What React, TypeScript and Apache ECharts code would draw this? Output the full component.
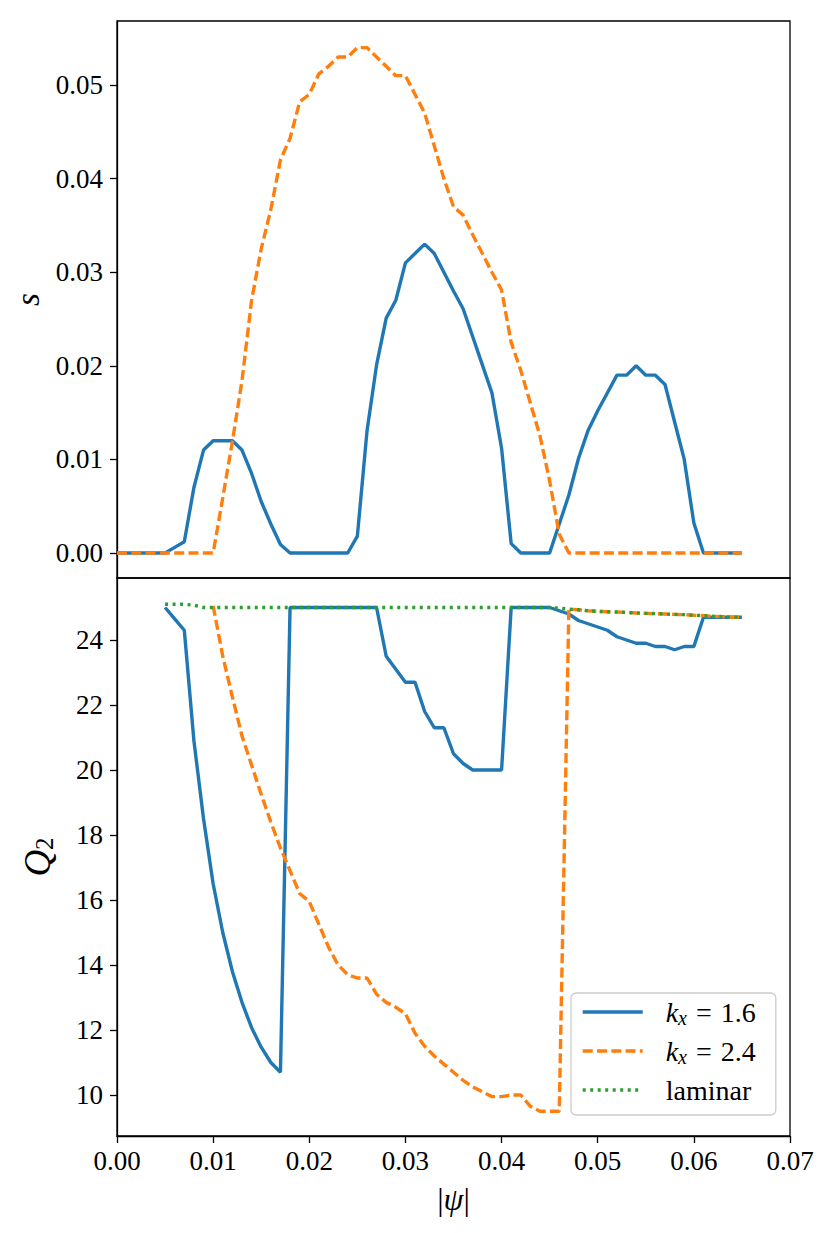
import React, { useEffect, useRef } from "react";
import * as echarts from "echarts";

const psi = [
  0.0, 0.001, 0.002, 0.003, 0.004, 0.005, 0.006, 0.007, 0.008, 0.009,
  0.01, 0.011, 0.012, 0.013, 0.014, 0.015, 0.016, 0.017, 0.018, 0.019,
  0.02, 0.021, 0.022, 0.023, 0.024, 0.025, 0.026, 0.027, 0.028, 0.029,
  0.03, 0.031, 0.032, 0.033, 0.034, 0.035, 0.036, 0.037, 0.038, 0.039,
  0.04, 0.041, 0.042, 0.043, 0.044, 0.045, 0.046, 0.047, 0.048, 0.049,
  0.05, 0.051, 0.052, 0.053, 0.054, 0.055, 0.056, 0.057, 0.058, 0.059,
  0.06, 0.061, 0.062, 0.063, 0.064, 0.065,
];

// top panel: s
const sK16 = [
  0, 0, 0, 0, 0, 0, 0.0006, 0.0012, 0.007, 0.011,
  0.012, 0.012, 0.012, 0.011, 0.0085, 0.0055, 0.0031, 0.0009, 0, 0,
  0, 0, 0, 0, 0, 0.0018, 0.013, 0.0201, 0.0251, 0.027,
  0.031, 0.032, 0.033, 0.032, 0.03, 0.028, 0.0261, 0.0231, 0.0201, 0.0171,
  0.0112, 0.001, 0, 0, 0, 0, 0.0031, 0.0062, 0.0101, 0.0131,
  0.0152, 0.0171, 0.019, 0.019, 0.02, 0.019, 0.019, 0.018, 0.014, 0.01,
  0.0032, 0, 0, 0, 0, 0,
];
const sK24 = [
  0, 0, 0, 0, 0, 0, 0, 0, 0, 0,
  0, 0.0059, 0.0119, 0.0184, 0.027, 0.0325, 0.0367, 0.042, 0.0443, 0.0482,
  0.049, 0.0512, 0.052, 0.053, 0.053, 0.054, 0.054, 0.053, 0.052, 0.051,
  0.051, 0.049, 0.047, 0.0435, 0.04, 0.037, 0.0361, 0.034, 0.032, 0.03,
  0.0281, 0.0225, 0.0195, 0.016, 0.0125, 0.0077, 0.002, 0, 0, 0,
  0, 0, 0, 0, 0, 0, 0, 0, 0, 0,
  0, 0, 0, 0, 0, 0,
];

// bottom panel: Q2
const qK16 = [
  null, null, null, null, null, 25.0, 24.65, 24.3, 20.9, 18.5,
  16.5, 15.0, 13.8, 12.85, 12.07, 11.47, 11.0, 10.7, 25.0, 25.0,
  25.0, 25.0, 25.0, 25.0, 25.0, 25.0, 25.0, 25.0, 23.5, 23.1,
  22.7, 22.7, 21.8, 21.3, 21.3, 20.5, 20.2, 20.0, 20.0, 20.0,
  20.0, 25.0, 25.0, 25.0, 25.0, 25.0, 24.9, 24.8, 24.6, 24.5,
  24.4, 24.3, 24.1, 24.0, 23.9, 23.9, 23.8, 23.8, 23.7, 23.8,
  23.8, 24.7, 24.7, 24.7, 24.7, 24.7,
];
const qK24 = [
  null, null, null, null, null, null, null, null, null, null,
  25.05, 23.5, 22.25, 21.05, 20.15, 19.25, 18.4, 17.6, 16.9, 16.2,
  15.95, 15.25, 14.55, 14.0, 13.7, 13.6, 13.6, 13.1, 12.85, 12.7,
  12.5, 11.9, 11.5, 11.2, 10.95, 10.7, 10.45, 10.25, 10.1, 9.95,
  9.95, 10.0, 10.0, 9.65, 9.5, 9.5, 9.5, 24.95, 24.93, 24.9,
  24.88, 24.87, 24.86, 24.85, 24.83, 24.82, 24.81, 24.8, 24.79, 24.78,
  24.76, 24.75, 24.73, 24.72, 24.7, 24.7,
];
const qLaminar = [
  null, null, null, null, null, 25.1, 25.1, 25.1, 25.07, 25.0,
  25.0, 25.0, 25.0, 25.0, 25.0, 25.0, 25.0, 25.0, 25.0, 25.0,
  25.0, 25.0, 25.0, 25.0, 25.0, 25.0, 25.0, 25.0, 25.0, 25.0,
  25.0, 25.0, 25.0, 25.0, 25.0, 25.0, 25.0, 25.0, 25.0, 25.0,
  25.0, 25.0, 25.0, 25.0, 25.0, 25.0, 24.98, 24.95, 24.93, 24.9,
  24.88, 24.87, 24.86, 24.85, 24.83, 24.82, 24.81, 24.8, 24.79, 24.78,
  24.76, 24.75, 24.73, 24.72, 24.7, 24.7,
];

const xTicks = [0, 0.01, 0.02, 0.03, 0.04, 0.05, 0.06, 0.07];
const sTicks = [0, 0.01, 0.02, 0.03, 0.04, 0.05];
const qTicks = [10, 12, 14, 16, 18, 20, 22, 24];

const names = ["k16", "k24", "laminar"];
const colors = ["#1f77b4", "#ff7f0e", "#2ca02c"];

const FONT = "Liberation Serif";
const FS = 27;
const LW = 3.4;

export default function App() {
  const ref = useRef<HTMLDivElement>(null);
  useEffect(() => {
    const chart = echarts.init(ref.current!, null, { renderer: "svg" });
    const zip = (ys: (number | null)[]) => psi.map((x, i) => [x, ys[i]]);
    const axisLabel = {
      fontFamily: FONT,
      fontSize: FS,
      color: "#000",
    };
    const tick = { show: true, inside: false, length: 7, lineStyle: { color: "#000", width: 1.3 } };
    const rich = {
      i: { fontFamily: FONT, fontStyle: "italic", fontSize: 28, color: "#000", lineHeight: 32 },
      s: { fontFamily: FONT, fontStyle: "italic", fontSize: 20, color: "#000", lineHeight: 19, verticalAlign: "bottom" },
      r: { fontFamily: FONT, fontSize: 28, color: "#000", lineHeight: 32 },
      g: { width: 9 },
      p: { width: 18 },
    };
    const option: any = {
      animation: false,
      backgroundColor: "#fff",
      grid: [
        { left: 117, top: 21, width: 673, height: 557, show: true, borderColor: "#000", borderWidth: 1.3, backgroundColor: "transparent" },
        { left: 117, top: 578, width: 673, height: 558, show: true, borderColor: "#000", borderWidth: 1.3, backgroundColor: "transparent" },
      ],
      xAxis: [
        {
          type: "value", gridIndex: 0, min: 0, max: 0.07, interval: 0.01,
          axisLine: { show: false }, axisTick: { show: false }, axisLabel: { show: false }, splitLine: { show: false },
        },
        {
          type: "value", gridIndex: 1, min: 0, max: 0.07, interval: 0.01,
          axisLine: { show: true, onZero: false, lineStyle: { color: "#000", width: 1.3 } },
          axisTick: tick,
          axisLabel: { ...axisLabel, margin: 11, customValues: xTicks, formatter: (v: number) => v.toFixed(2) },
          splitLine: { show: false },
          name: "{r||}{i|ψ}{r||}",
          nameLocation: "middle",
          nameGap: 45,
          nameTextStyle: {
            rich: {
              i: { ...rich.i, fontSize: 32, lineHeight: 36 },
              r: { ...rich.r, fontSize: 32, lineHeight: 36 },
            },
          },
        },
      ],
      yAxis: [
        {
          type: "value", gridIndex: 0, min: -0.00267, max: 0.05684,
          axisLine: { show: true, onZero: false, lineStyle: { color: "#000", width: 1.3 } },
          axisTick: { ...tick, customValues: sTicks },
          axisLabel: { ...axisLabel, margin: 14, customValues: sTicks, formatter: (v: number) => v.toFixed(2) },
          splitLine: { show: false },
          name: "{i|s}",
          nameLocation: "middle",
          nameGap: 70,
          nameRotate: 90,
          nameTextStyle: { rich: { i: { ...rich.i, fontSize: 33, lineHeight: 36 } } },
        },
        {
          type: "value", gridIndex: 1, min: 8.738, max: 25.908,
          axisLine: { show: true, onZero: false, lineStyle: { color: "#000", width: 1.3 } },
          axisTick: { ...tick, customValues: qTicks },
          axisLabel: { ...axisLabel, margin: 14, customValues: qTicks, formatter: (v: number) => String(v) },
          splitLine: { show: false },
          name: "{i|Q}{s|2}",
          nameLocation: "middle",
          nameGap: 60,
          nameRotate: 90,
          nameTextStyle: {
            rich: {
              i: { ...rich.i, fontSize: 37, lineHeight: 40 },
              s: { ...rich.s, fontSize: 25, lineHeight: 24, fontStyle: "normal" },
            },
          },
        },
      ],
      legend: {
        data: names,
        orient: "vertical",
        left: 571,
        top: 993,
        padding: [5, 20, 11, 10],
        itemGap: 9,
        itemWidth: 60,
        itemHeight: 14,
        backgroundColor: "rgba(255,255,255,0.8)",
        borderColor: "#cccccc",
        borderWidth: 1.3,
        borderRadius: 5,
        itemStyle: { color: "transparent", borderWidth: 0, opacity: 0 },
        lineStyle: { width: LW },
        formatter: (n: string) =>
          n === "k16"
            ? "{p|}{i|k}{s|x}{g|}{r|=}{g|}{r|1.6}"
            : n === "k24"
            ? "{p|}{i|k}{s|x}{g|}{r|=}{g|}{r|2.4}"
            : "{p|}{r|laminar}",
        textStyle: { rich },
      },
      series: [
        {
          name: "k16", type: "line", xAxisIndex: 0, yAxisIndex: 0, data: zip(sK16),
          symbol: "none", lineStyle: { color: colors[0], width: LW }, itemStyle: { color: colors[0] },
        },
        {
          name: "k24", type: "line", xAxisIndex: 0, yAxisIndex: 0, data: zip(sK24),
          symbol: "none", lineStyle: { color: colors[1], width: LW, type: [10, 4.3] }, itemStyle: { color: colors[1] },
        },
        {
          name: "k16", type: "line", xAxisIndex: 1, yAxisIndex: 1, data: zip(qK16),
          symbol: "none", lineStyle: { color: colors[0], width: LW }, itemStyle: { color: colors[0] },
        },
        {
          name: "k24", type: "line", xAxisIndex: 1, yAxisIndex: 1, data: zip(qK24),
          symbol: "none", lineStyle: { color: colors[1], width: LW, type: [10, 4.3] }, itemStyle: { color: colors[1] },
        },
        {
          name: "laminar", type: "line", xAxisIndex: 1, yAxisIndex: 1, data: zip(qLaminar),
          symbol: "none", lineStyle: { color: colors[2], width: LW, type: [3, 4.5] }, itemStyle: { color: colors[2] },
        },
      ],
    };
    chart.setOption(option);
    return () => chart.dispose();
  }, []);
  return (
    <div
      ref={ref}
      style={{ position: "absolute", left: 0, top: 0, width: 830, height: 1233, background: "#fff" }}
    />
  );
}
